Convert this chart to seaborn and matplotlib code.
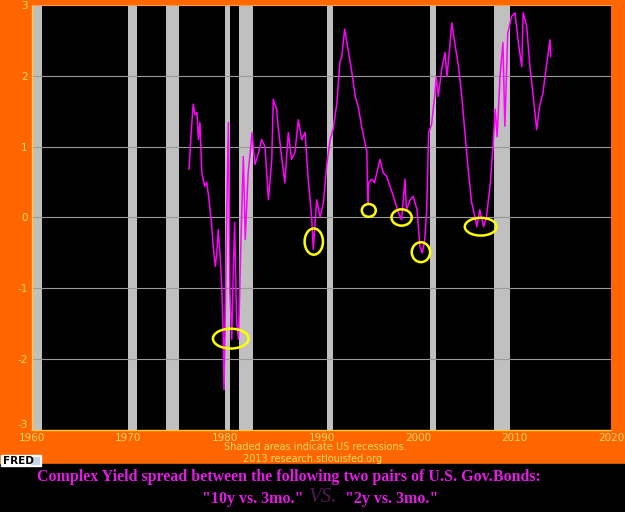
import matplotlib
matplotlib.use("Agg")
import matplotlib.pyplot as plt
import seaborn as sns
import pandas as pd
from matplotlib.patches import Ellipse, Rectangle

# Spread series (decimal year, percent)
years = [1976.27, 1976.5, 1976.7, 1976.9, 1977.1, 1977.25, 1977.4, 1977.6, 1977.9, 1978.1,
         1978.3, 1978.6, 1978.8, 1979.0, 1979.15, 1979.3, 1979.5, 1979.66, 1979.8, 1979.9,
         1980.05, 1980.2, 1980.35, 1980.45, 1980.5, 1980.7, 1980.85, 1981.0, 1981.2, 1981.4,
         1981.55, 1981.7, 1981.9, 1982.1, 1982.4, 1982.6, 1982.8, 1983.1, 1983.45, 1983.8,
         1984.15, 1984.5, 1984.85, 1985.0, 1985.35, 1985.5, 1985.9, 1986.2, 1986.56, 1986.9,
         1987.25, 1987.6, 1987.95, 1988.3, 1988.6, 1988.98, 1989.15, 1989.5, 1989.85, 1990.2,
         1990.55, 1990.9, 1991.2, 1991.6, 1991.9, 1992.1, 1992.4, 1992.8, 1993.1, 1993.5,
         1993.8, 1994.15, 1994.5, 1994.7, 1994.8, 1994.9, 1995.2, 1995.5, 1996.05, 1996.4,
         1996.75, 1997.1, 1997.45, 1997.96, 1998.3, 1998.65, 1998.8, 1999.2, 1999.5, 1999.9,
         2000.2, 2000.45, 2000.7, 2000.9, 2001.1, 2001.4, 2001.76, 2001.9, 2002.1, 2002.45,
         2002.8, 2003.0, 2003.3, 2003.5, 2003.8, 2004.2, 2004.5, 2004.9, 2005.2, 2005.56,
         2005.9, 2006.1, 2006.4, 2006.8, 2007.1, 2007.5, 2007.8, 2008.0, 2008.2, 2008.5,
         2008.8, 2009.0, 2009.3, 2009.7, 2010.05, 2010.4, 2010.75, 2010.9, 2011.26, 2011.6,
         2011.9, 2012.3, 2012.6, 2012.95, 2013.3, 2013.68, 2013.75]
spread = [0.68, 1.2, 1.6, 1.45, 1.48, 1.1, 1.34, 0.63, 0.44, 0.5,
          0.3, -0.07, -0.45, -0.69, -0.5, -0.17, -0.55, -0.97, -1.6, -2.43,
          -1.2, 0.2, 1.34, 0.0, -1.02, -1.72, -0.8, -0.07, -1.48, -1.72,
          -0.9, -0.07, 0.86, -0.31, 0.63, 0.9, 1.2, 0.75, 0.9, 1.1,
          1.0, 0.25, 0.82, 1.67, 1.53, 1.29, 0.82, 0.49, 1.2, 0.82,
          0.92, 1.38, 1.1, 1.2, 0.58, 0.01, -0.45, 0.25, 0.01, 0.21,
          0.75, 1.1, 1.24, 1.62, 2.19, 2.27, 2.66, 2.33, 2.09, 1.71,
          1.57, 1.29, 1.06, 0.92, 0.2, 0.49, 0.54, 0.49, 0.82, 0.63,
          0.58, 0.44, 0.3, 0.07, -0.03, 0.54, 0.11, 0.25, 0.3, 0.11,
          -0.41, -0.5, -0.31, 0.1, 1.2, 1.31, 1.76, 1.99, 1.71, 2.09,
          2.33, 1.99, 2.42, 2.75, 2.47, 2.13, 1.76, 1.14, 0.68, 0.21,
          0.01, -0.13, 0.11, -0.13, 0.01, 0.49, 1.06, 1.53, 1.14, 1.99,
          2.47, 1.29, 2.6, 2.84, 2.89, 2.47, 2.13, 2.89, 2.7, 2.13,
          1.76, 1.24, 1.57, 1.76, 2.13, 2.51, 2.27]

# US recessions (start, end)
rec_start = [1960.1, 1969.9, 1973.9, 1980.0, 1981.5, 1990.6, 2001.2, 2007.9]
rec_end = [1961.0, 1970.9, 1975.2, 1980.5, 1982.9, 1991.2, 2001.9, 2009.5]

# Highlighted troughs (centre year, centre value, width in years, height)
mark_x = [1980.6, 1989.2, 1994.9, 1998.3, 2000.3, 2006.5]
mark_y = [-1.71, -0.34, 0.10, 0.0, -0.49, -0.13]
mark_w = [3.7, 1.9, 1.45, 2.1, 1.9, 3.3]
mark_h = [0.28, 0.37, 0.18, 0.23, 0.28, 0.25]

x_ticks = [1960, 1970, 1980, 1990, 2000, 2010, 2020]
y_ticks = [-3, -2, -1, 0, 1, 2, 3]

ORANGE = "#FF6600"
TICK = "#FFD966"
MAGENTA = "#FF00FF"
TITLE = "#E31CE3"

sns.set_style("dark", {"axes.facecolor": "black", "figure.facecolor": ORANGE})
plt.rcParams["axes.unicode_minus"] = False
narrow = ["Liberation Sans Narrow", "DejaVu Sans"]
serif = ["Liberation Serif", "DejaVu Serif"]

fig = plt.figure(figsize=(6.25, 5.12), dpi=100, facecolor=ORANGE)
fig.patches.append(Rectangle((0, 0), 1, 48 / 512, transform=fig.transFigure,
                             color="black", zorder=0))
ax = fig.add_axes([0.0512, 0.1602, 0.9264, 0.8300])
ax.set_facecolor("black")

for s, e in zip(rec_start, rec_end):
    ax.axvspan(s, e, color="#C0C0C0", lw=0, zorder=1)
for v in y_ticks[1:-1]:
    ax.axhline(v, color="#9A9A9A", lw=0.8, zorder=2)

df = pd.DataFrame({"year": years, "spread": spread})
sns.lineplot(data=df, x="year", y="spread", ax=ax, color=MAGENTA, lw=1.1,
             estimator=None, sort=False, zorder=3)

for cx, cy, w, h in zip(mark_x, mark_y, mark_w, mark_h):
    ax.add_patch(Ellipse((cx, cy), w, h, fill=False, ec="#FFFF00", lw=1.8, zorder=4))

ax.set_xlim(1960, 2020)
ax.set_ylim(-3, 3)
ax.set_xticks(x_ticks)
ax.set_yticks(y_ticks)
ax.set_xlabel("")
ax.set_ylabel("")
ax.grid(False)
ax.tick_params(axis="both", colors=TICK, labelsize=7.5, direction="in", length=3,
               width=0.8, pad=3)
ax.tick_params(axis="x", pad=2, length=2)
for lab in ax.get_xticklabels() + ax.get_yticklabels():
    lab.set_family(narrow)
# keep the bottom y label clear of the first year label
ax.get_yticklabels()[0].set_va("bottom")
for side in ["left", "bottom"]:
    ax.spines[side].set_visible(True)
    ax.spines[side].set_color("#FFC840")
    ax.spines[side].set_linewidth(1.0)
ax.spines["top"].set_visible(True)
ax.spines["top"].set_color("#FF9A40")
ax.spines["right"].set_visible(False)

fig.text(315 / 625, 1 - 447 / 512, "Shaded areas indicate US recessions.",
         color=TICK, fontsize=7, family=narrow, ha="center", va="center")
fig.text(313 / 625, 1 - 459 / 512, "2013 research.stlouisfed.org",
         color=TICK, fontsize=7, family=narrow, ha="center", va="center")

# FRED logo
fig.patches.append(Rectangle((1 / 625, 1 - 466 / 512), 40 / 625, 11 / 512,
                             transform=fig.transFigure, color="white", zorder=1))
fig.patches.append(Rectangle((31 / 625, 1 - 464 / 512), 8 / 625, 7 / 512,
                             transform=fig.transFigure, color="#C8D4E8", zorder=2))
fig.text(3 / 625, 1 - 460.5 / 512, "FRED", color="black", fontsize=7.5,
         fontweight="bold", ha="left", va="center", zorder=3)

fig.text(289 / 625, 1 - 477 / 512,
         "Complex Yield spread between the following two pairs of U.S. Gov.Bonds:",
         color=TITLE, fontsize=11.5, fontweight="bold", family=serif,
         ha="center", va="center")
fig.text(303 / 625, 1 - 499 / 512, '"10y vs. 3mo."', color=TITLE, fontsize=11.5,
         fontweight="bold", family=serif, ha="right", va="center")
fig.text(323 / 625, 1 - 498 / 512, "VS.", color="#4E1A4E", fontsize=15,
         style="italic", family=serif, ha="center", va="center")
fig.text(345 / 625, 1 - 499 / 512, '"2y vs. 3mo."', color=TITLE, fontsize=11.5,
         fontweight="bold", family=serif, ha="left", va="center")

fig.savefig("out.png", dpi=100, facecolor=fig.get_facecolor())
